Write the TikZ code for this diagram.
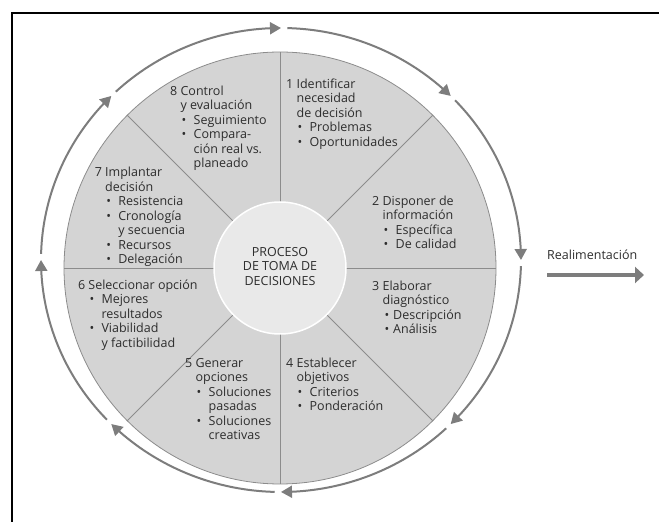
\documentclass[tikz,border=0pt]{standalone}
\usepackage{fontspec}
\setmainfont{Open Sans}
\usetikzlibrary{arrows.meta,bending}

\definecolor{sectorgray}{RGB}{212,212,212}
\definecolor{hubgray}{RGB}{233,233,233}
\definecolor{rimgray}{RGB}{140,140,140}
\definecolor{ringgray}{RGB}{125,125,125}
\definecolor{inkgray}{RGB}{45,45,45}

% indentation helpers for the step texts
\newcommand\sind{\hspace*{10.4pt}}
\newcommand\sbul{\hspace*{11.5pt}\makebox[12pt][l]{\textbullet}}
\newcommand\stight{\hspace*{12.5pt}\makebox[8.5pt][l]{\textbullet}}
\newcommand\scnt{\hspace*{23.5pt}}

\begin{document}
\begin{tikzpicture}[x=1pt,y=1pt,
  steptext/.style={inner sep=0pt, text=inkgray,
    font=\fontsize{12.5}{14.5}\selectfont, anchor=base west},
  ringarrow/.style={draw=ringgray, line width=2pt,
    -{Triangle[length=11pt,width=12pt,flex]}},
  divider/.style={draw=rimgray, line width=0.8pt},
]
\useasboundingbox (0,0) rectangle (659,522);

% frame
\draw[line width=1.8pt] (12,0) -- (12,509) -- (659,509);

% wheel with eight sectors
\node[circle, fill=sectorgray, draw=rimgray, line width=0.8pt,
      minimum size=432pt, inner sep=0pt] (wheel) at (280,254) {};
\foreach \a in {0,45,...,315}
  \draw[divider] (wheel.center) -- (wheel.\a);

% hub
\node[circle, fill=hubgray, draw=white, line width=1.5pt,
      minimum size=132pt, inner sep=0pt, text=inkgray,
      font=\fontsize{12.5}{14.5}\selectfont] (hub) at (280,254)
  {\raisebox{-2pt}{\begin{tabular}{@{}c@{}}PROCESO\\DE TOMA DE\\DECISIONES\end{tabular}}};

% cycle arrows around the wheel
\coordinate (ring) at (281,262);
\foreach \s/\e in {88.5/45, 43.5/0, -1.5/-45, -46.5/-90,
                   -91.5/-135, -136.5/-180, -181.5/-225, -226.5/-270}
  \draw[ringarrow] (ring) ++(\s:240 and 232)
    arc[start angle=\s, end angle=\e, x radius=240, y radius=232];

% step texts
\node[steptext] (s1) at (286,433.5) {\begin{tabular}[t]{@{}l@{}}
  1 Identificar\\ \sind necesidad\\ \sind de decisión\\
  \sbul Problemas\\ \sbul Oportunidades\end{tabular}};

\node[steptext] (s2) at (372,316.8) {\begin{tabular}[t]{@{}l@{}}
  2 Disponer de\\ \sind información\\
  \sbul Específica\\ \sbul De calidad\end{tabular}};

\node[steptext] (s3) at (372,231.8) {\begin{tabular}[t]{@{}l@{}}
  3 Elaborar\\ \sind diagnóstico\\
  \stight Descripción\\ \stight Análisis\end{tabular}};

\node[steptext] (s4) at (286,154.8) {\begin{tabular}[t]{@{}l@{}}
  4 Establecer\\ \sind objetivos\\
  \sbul Criterios\\ \sbul Ponderación\end{tabular}};

\node[steptext] (s5) at (185,154.8) {\begin{tabular}[t]{@{}l@{}}
  5 Generar\\ \sind opciones\\
  \sbul Soluciones\\ \scnt pasadas\\
  \sbul Soluciones\\ \scnt creativas\end{tabular}};

\node[steptext] (s6) at (77.8,232.5) {\begin{tabular}[t]{@{}l@{}}
  6 Seleccionar opción\\
  \sbul Mejores\\ \scnt resultados\\
  \sbul Viabilidad\\ \scnt y factibilidad\end{tabular}};

\node[steptext] (s7) at (94.6,345.2) {\begin{tabular}[t]{@{}l@{}}
  7 Implantar\\ \sind decisión\\
  \sbul Resistencia\\ \sbul Cronología\\ \scnt y secuencia\\
  \sbul Recursos\\ \sbul Delegación\end{tabular}};

\node[steptext] (s8) at (170,426.8) {\begin{tabular}[t]{@{}l@{}}
  8 Control\\ \sind y evaluación\\
  \sbul Seguimiento\\ \sbul Compara-\\ \scnt ción real vs.\\
  \scnt planeado\end{tabular}};

% feedback arrow
\node[steptext] (fbtext) at (547,262.5) {Realimentación};
\coordinate (fbfrom) at (547,247);
\coordinate (fbto) at (644,247);
\draw[draw=ringgray, line width=4pt, -{Triangle[length=9pt,width=16pt]}]
  (fbfrom) -- (fbto);
\end{tikzpicture}
\end{document}
